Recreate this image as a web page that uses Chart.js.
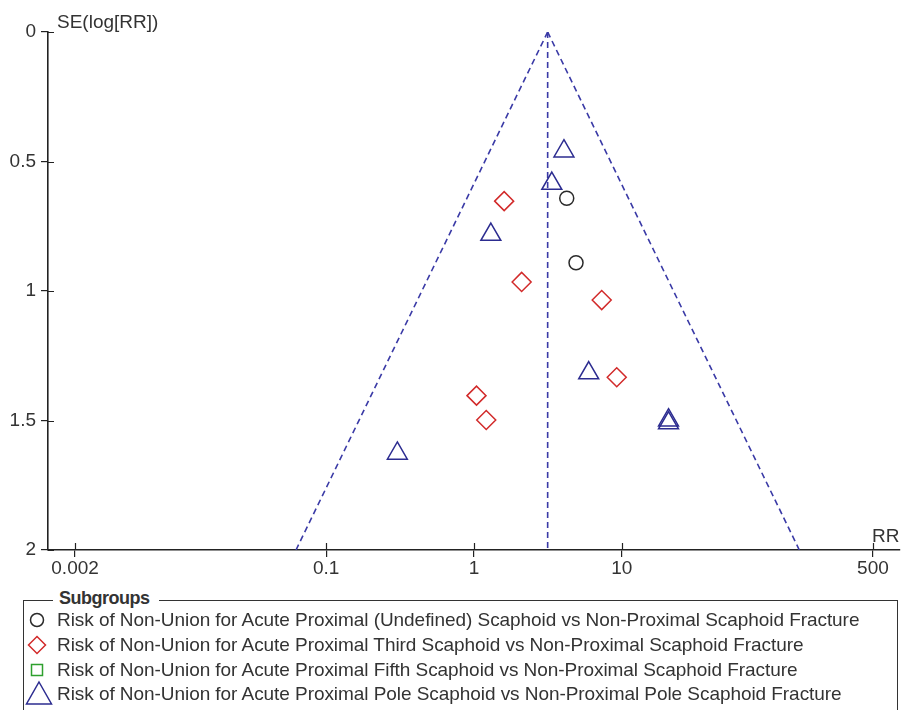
<!DOCTYPE html>
<html>
<head>
<meta charset="utf-8">
<script src="https://cdn.jsdelivr.net/npm/chart.js@4.4.1/dist/chart.umd.min.js"></script>
<style>
  html, body { margin: 0; padding: 0; background: #fff; }
  #wrap { position: relative; width: 903px; height: 710px; overflow: hidden; }
  #funnel { position: absolute; left: 0; top: 0; }
  .narrow { font-family: 'Liberation Sans', Arial, sans-serif; color: #333; }
  #legendBox { position: absolute; left: 23px; top: 600px; width: 875px; height: 140px; border: 1.5px solid #333; box-sizing: border-box; }
  #legendTitle { position: absolute; left: 53px; top: 586px; padding: 0 9px 0 6px; background: #fff; font-size: 18px; letter-spacing: -0.5px; font-weight: bold; line-height: 24px; }
  .legendRow { position: absolute; left: 57px; font-size: 19px; letter-spacing: -0.06px; line-height: 24px; white-space: nowrap; }
  #legendMarks { position: absolute; left: 0; top: 0; }
</style>
</head>
<body>
<div id="wrap">
  <canvas id="funnel" width="903" height="590"></canvas>
  <div id="legendBox"></div>
  <div id="legendTitle" class="narrow">Subgroups</div>
  <svg id="legendMarks" width="903" height="710"></svg>
  <div id="legendRows"></div>
</div>
<script>
// Subgroup names
const seriesNames = [
  'Risk of Non-Union for Acute Proximal (Undefined) Scaphoid vs Non-Proximal Scaphoid Fracture',
  'Risk of Non-Union for Acute Proximal Third Scaphoid vs Non-Proximal Scaphoid Fracture',
  'Risk of Non-Union for Acute Proximal Fifth Scaphoid vs Non-Proximal Scaphoid Fracture',
  'Risk of Non-Union for Acute Proximal Pole Scaphoid vs Non-Proximal Pole Scaphoid Fracture'
];

// Study estimates: risk ratio and SE(log RR)
const undefinedRR = [4.24, 4.90];
const undefinedSE = [0.642, 0.891];

const thirdRR = [1.60, 2.10, 7.31, 9.24, 1.04, 1.21];
const thirdSE = [0.653, 0.965, 1.035, 1.333, 1.404, 1.498];

const fifthRR = [];
const fifthSE = [];

const poleRR = [4.06, 3.36, 1.30, 5.97, 20.7, 20.7, 0.303];
const poleSE = [0.460, 0.585, 0.782, 1.317, 1.499, 1.510, 1.627];

// Pooled estimate and 95% pseudo-confidence limits of the funnel
const pooledRR = [3.15, 3.15];
const funnelLeftRR = [3.15, 0.0625];
const funnelRightRR = [3.15, 158.8];
const funnelSE = [0, 2];

// Axis ticks
const xTickValues = [0.002, 0.1, 1, 10, 500];
const yTickValues = [0, 0.5, 1, 1.5, 2];

const FONT_FAMILY = "'Liberation Sans', Arial, sans-serif";
const TEXT_COLOR = '#333';
const AXIS_COLOR = '#222';
const FUNNEL_COLOR = '#3a3aa6';

const toPoints = (xs, ys) => xs.map((x, i) => ({ x: x, y: ys[i] }));

const markerSets = [
  { label: seriesNames[0], data: toPoints(undefinedRR, undefinedSE), pointStyle: 'circle', pointRadius: 7, pointBorderColor: '#2a2a2a' },
  { label: seriesNames[1], data: toPoints(thirdRR, thirdSE), pointStyle: 'rectRot', pointRadius: 9.5, pointBorderColor: '#d22a2a' },
  { label: seriesNames[2], data: toPoints(fifthRR, fifthSE), pointStyle: 'rect', pointRadius: 7, pointBorderColor: '#2ea02e' },
  { label: seriesNames[3], data: toPoints(poleRR, poleSE), pointStyle: 'triangle', pointRadius: 11.5, pointBorderColor: '#2c2c90' }
].map(d => Object.assign(d, {
  type: 'scatter',
  showLine: false,
  pointBackgroundColor: 'rgba(0,0,0,0)',
  pointBorderWidth: 1.5,
  pointHoverRadius: d.pointRadius
}));

const lineSet = (label, xs) => ({
  type: 'line',
  label: label,
  data: toPoints(xs, funnelSE),
  borderColor: FUNNEL_COLOR,
  borderWidth: 1.6,
  borderDash: [6, 4],
  pointRadius: 0,
  fill: false,
  tension: 0
});

const datasets = markerSets.concat([
  lineSet('pooled', pooledRR),
  lineSet('lower limit', funnelLeftRR),
  lineSet('upper limit', funnelRightRR)
]);

// Inner halves of the tick marks and the axis captions
const axisExtras = {
  id: 'axisExtras',
  afterDraw(chart) {
    const ctx = chart.ctx;
    const area = chart.chartArea;
    const xs = chart.scales.x, ys = chart.scales.y;
    ctx.save();
    ctx.strokeStyle = AXIS_COLOR;
    ctx.lineWidth = 1.2;
    ctx.beginPath();
    xTickValues.forEach(v => {
      const px = Math.round(xs.getPixelForValue(v)) + 0.5;
      ctx.moveTo(px, area.bottom);
      ctx.lineTo(px, area.bottom - 7);
    });
    yTickValues.forEach(v => {
      const py = Math.round(ys.getPixelForValue(v)) + 0.5;
      ctx.moveTo(area.left, py);
      ctx.lineTo(area.left + 6, py);
    });
    ctx.stroke();
    ctx.fillStyle = TEXT_COLOR;
    ctx.font = '19px ' + FONT_FAMILY;
    ctx.textBaseline = 'alphabetic';
    ctx.textAlign = 'left';
    ctx.fillText('SE(log[RR])', area.left + 9, 27.5);
    ctx.fillText('RR', xs.getPixelForValue(500) - 1, area.bottom - 8);
    ctx.restore();
  }
};

new Chart(document.getElementById('funnel'), {
  data: { datasets: datasets },
  options: {
    responsive: false,
    devicePixelRatio: 1,
    animation: false,
    events: [],
    layout: { autoPadding: false, padding: { top: 32, right: 3, left: 0, bottom: 0 } },
    plugins: { legend: { display: false }, tooltip: { enabled: false } },
    scales: {
      x: {
        type: 'logarithmic',
        position: 'bottom',
        min: Math.pow(10, -2.882),
        max: Math.pow(10, 2.882),
        afterBuildTicks: scale => { scale.ticks = xTickValues.map(v => ({ value: v })); },
        afterFit: scale => { scale.height = 40; scale.paddingLeft = 0; scale.paddingRight = 0; },
        ticks: {
          autoSkip: false,
          maxRotation: 0,
          padding: 0,
          color: TEXT_COLOR,
          font: { family: FONT_FAMILY, size: 19 },
          callback: v => String(v)
        },
        grid: { drawOnChartArea: false, drawTicks: true, tickLength: 7, color: AXIS_COLOR, lineWidth: 1.2 },
        border: { display: true, color: AXIS_COLOR, width: 1.6 }
      },
      y: {
        type: 'linear',
        position: 'left',
        reverse: true,
        min: 0,
        max: 2,
        afterBuildTicks: scale => { scale.ticks = yTickValues.map(v => ({ value: v })); },
        afterFit: scale => { scale.width = 48; scale.paddingTop = 0; scale.paddingBottom = 0; },
        ticks: {
          padding: 5,
          color: TEXT_COLOR,
          font: { family: FONT_FAMILY, size: 19 },
          callback: v => String(v)
        },
        grid: { drawOnChartArea: false, drawTicks: true, tickLength: 7, color: AXIS_COLOR, lineWidth: 1.2 },
        border: { display: true, color: AXIS_COLOR, width: 1.6 }
      }
    }
  },
  plugins: [axisExtras]
});

// Subgroup legend
const rowCentres = [620, 645, 670, 694];
const svgNS = 'http://www.w3.org/2000/svg';
const marks = document.getElementById('legendMarks');
const rows = document.getElementById('legendRows');
const markShapes = [
  { tag: 'circle', attrs: { cx: 37, cy: rowCentres[0], r: 6.5 }, color: '#2a2a2a' },
  { tag: 'polygon', attrs: { points: `37,${rowCentres[1] - 8.5} 45.5,${rowCentres[1]} 37,${rowCentres[1] + 8.5} 28.5,${rowCentres[1]}` }, color: '#d22a2a' },
  { tag: 'rect', attrs: { x: 31.5, y: rowCentres[2] - 5.5, width: 11, height: 11 }, color: '#2ea02e' },
  { tag: 'polygon', attrs: { points: `39,${rowCentres[3] - 12} 51.5,${rowCentres[3] + 10} 26.5,${rowCentres[3] + 10}` }, color: '#2c2c90' }
];
markShapes.forEach((m, i) => {
  const el = document.createElementNS(svgNS, m.tag);
  Object.keys(m.attrs).forEach(k => el.setAttribute(k, m.attrs[k]));
  el.setAttribute('fill', 'none');
  el.setAttribute('stroke', m.color);
  el.setAttribute('stroke-width', '1.5');
  marks.appendChild(el);

  const row = document.createElement('div');
  row.className = 'legendRow narrow';
  row.style.top = (rowCentres[i] - 12) + 'px';
  row.textContent = seriesNames[i];
  rows.appendChild(row);
});
</script>
</body>
</html>
